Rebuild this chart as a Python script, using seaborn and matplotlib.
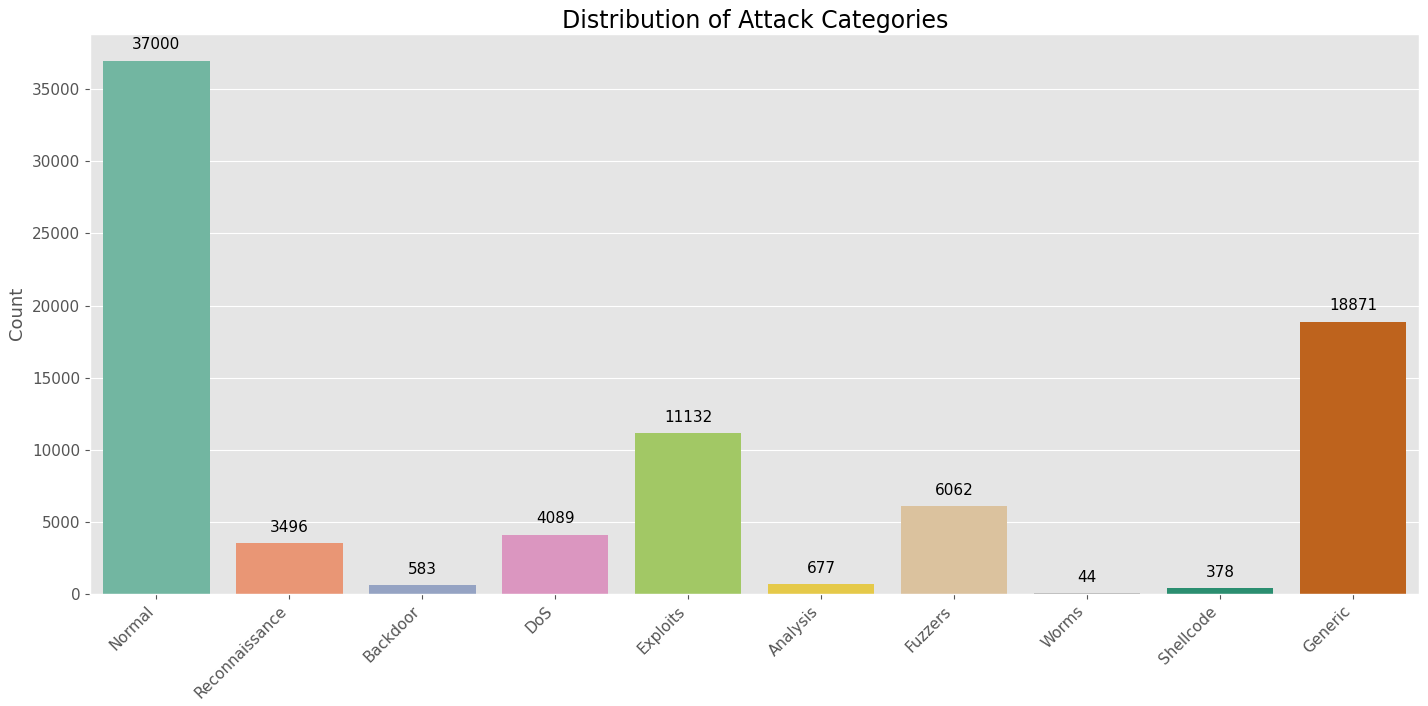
import matplotlib
matplotlib.use("Agg")
import matplotlib.pyplot as plt
import seaborn as sns
import pandas as pd

categories = ["Normal", "Reconnaissance", "Backdoor", "DoS", "Exploits",
              "Analysis", "Fuzzers", "Worms", "Shellcode", "Generic"]
counts = [37000, 3496, 583, 4089, 11132, 677, 6062, 44, 378, 18871]
colors = ["#66c2a5", "#fc8d62", "#8da0cb", "#e78ac3", "#a6d854",
          "#ffd92f", "#e5c494", "#b3b3b3", "#1b9e77", "#d95f02"]

plt.style.use("ggplot")
df = pd.DataFrame({"attack_cat": categories, "count": counts})

fig, ax = plt.subplots(figsize=(14.28, 7.06), dpi=100)
fig.subplots_adjust(left=0.063, right=0.994, top=0.952, bottom=0.159)

sns.barplot(data=df, x="attack_cat", y="count", hue="attack_cat",
            palette=colors, legend=False, ax=ax)

for c in ax.containers:
    ax.bar_label(c, padding=6, fontsize=11, color="black")

ax.set_title("Distribution of Attack Categories", fontsize=17, color="black", pad=4)
ax.set_ylabel("Count", fontsize=13)
ax.set_xlabel("")
ax.tick_params(axis="both", labelsize=11)
plt.setp(ax.get_xticklabels(), rotation=45, ha="right")

fig.savefig("out.png", dpi=100)
